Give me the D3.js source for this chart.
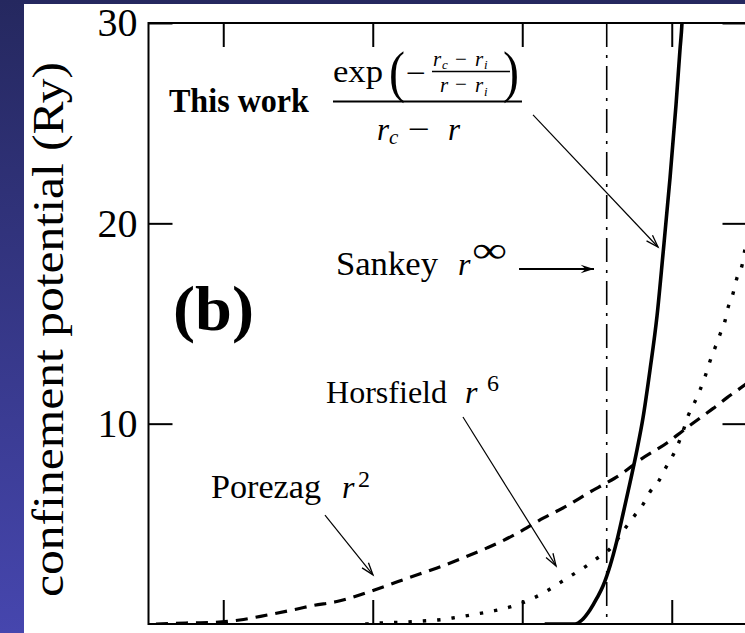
<!DOCTYPE html>
<html>
<head>
<meta charset="utf-8">
<script src="https://cdn.jsdelivr.net/npm/d3@7/dist/d3.min.js"></script>
<style>
  html, body { margin: 0; padding: 0; background: #ffffff; }
  svg { display: block; }
  text, tspan { font-family: "Liberation Serif", "Times New Roman", serif; fill: #000; }
</style>
</head>
<body>
<svg id="chart" width="745" height="633"></svg>
<script>
// ---- data (r in bohr, potential in Ry) ----
const xTicks = [2, 4, 6, 8];
const yTicks = [10, 20, 30];
const cutoffRadius = 7.13;   // Sankey hard wall

// This work: exp(-(rc-ri)/(r-ri)) / (rc-r)
const thisWorkR = [6.3, 6.55, 6.706, 6.799, 6.906, 7.0, 7.08, 7.174, 7.268, 7.348, 7.441, 7.535, 7.615, 7.709, 7.803, 7.883, 7.977, 8.057, 8.11, 8.137, 8.16];
const thisWorkV = [0, 0, 0, 0.2, 0.7, 1.3, 1.9, 2.9, 4.19, 5.49, 7.04, 8.69, 10.28, 12.68, 15.38, 18.47, 22.27, 25.91, 28.66, 30.01, 32.3];

// Porezag r^2
const porezagR = [1.1, 1.5, 1.86, 2.22, 2.59, 2.99, 3.2, 3.52, 3.7, 4.1, 4.5, 4.86, 5.21, 5.53, 5.88, 6.06, 6.28, 6.6, 6.91, 7.13, 7.31, 7.58, 7.94, 8.15, 8.42, 8.55, 8.74, 8.89, 9.0];
const porezagV = [0, 0.05, 0.08, 0.2, 0.45, 0.75, 0.92, 1.12, 1.3, 1.8, 2.33, 2.8, 3.3, 3.8, 4.42, 4.8, 5.28, 5.9, 6.6, 7.05, 7.45, 8.2, 9.05, 9.65, 10.4, 10.75, 11.3, 11.7, 12.0];

// Horsfield r^6
const horsfieldR = [3.9, 4.1, 4.46, 4.67, 4.87, 5.07, 5.39, 5.61, 5.84, 6.0, 6.33, 6.5, 6.67, 6.84, 6.97, 7.2, 7.37, 7.49, 7.62, 7.71, 7.82, 7.92, 8.02, 8.14, 8.22, 8.31, 8.38, 8.45, 8.51, 8.58, 8.65, 8.71, 8.75, 8.82, 8.87, 8.94, 8.98, 9.0];
const horsfieldV = [0, 0.05, 0.1, 0.15, 0.2, 0.3, 0.5, 0.65, 0.85, 1.05, 1.65, 2.05, 2.45, 2.85, 3.2, 3.85, 4.75, 5.35, 6.0, 6.6, 7.1, 7.8, 8.45, 9.5, 10.4, 11.1, 11.7, 12.4, 13.1, 13.8, 14.5, 15.1, 15.75, 16.5, 17.25, 17.9, 18.7, 19.0];

const FONT = "Liberation Serif, Times New Roman, serif";
const svg = d3.select("#chart");
const W = 745, H = 633;

// ---- backdrop: blue slide frame with white panel ----
const defs = svg.append("defs");
const grad = defs.append("linearGradient").attr("id", "slideBlue")
  .attr("x1", 0).attr("y1", 0).attr("x2", 0).attr("y2", 1);
grad.append("stop").attr("offset", "0%").attr("stop-color", "#25285f");
grad.append("stop").attr("offset", "100%").attr("stop-color", "#4646ae");
svg.append("rect").attr("width", W).attr("height", H).attr("fill", "url(#slideBlue)");
svg.append("rect").attr("x", 24).attr("y", 4).attr("width", W - 24).attr("height", H - 4).attr("fill", "#ffffff");

// ---- scales ----
const x = d3.scaleLinear().domain([1, 9]).range([148.5, 746.5]);
const y = d3.scaleLinear().domain([0, 30]).range([624, 23]);
const [x0, x1] = x.range();
const [y0, y1] = y.range();

defs.append("clipPath").attr("id", "plotClip")
  .append("rect").attr("x", x0).attr("y", y1).attr("width", x1 - x0).attr("height", y0 - y1);

// ---- axes (ticks inward on all four sides) ----
const tickLen = 24;
const axisStyle = g => {
  g.select(".domain").remove();
  g.selectAll(".tick line").attr("stroke", "#000").attr("stroke-width", 2);
};
svg.append("g").attr("transform", `translate(0,${y0})`)
  .call(d3.axisBottom(x).tickValues(xTicks).tickSizeInner(-tickLen).tickSizeOuter(0).tickFormat(""))
  .call(axisStyle);
svg.append("g").attr("transform", `translate(0,${y1})`)
  .call(d3.axisTop(x).tickValues(xTicks).tickSizeInner(-tickLen).tickSizeOuter(0).tickFormat(""))
  .call(axisStyle);
const yLeft = svg.append("g").attr("transform", `translate(${x0},0)`)
  .call(d3.axisLeft(y).tickValues(yTicks).tickSizeInner(-tickLen).tickSizeOuter(0).tickPadding(11))
  .call(axisStyle);
yLeft.attr("font-family", FONT);
yLeft.selectAll(".tick text")
  .attr("font-family", FONT)
  .attr("font-size", 40).attr("fill", "#000");
svg.append("g").attr("transform", `translate(${x1},0)`)
  .call(d3.axisRight(y).tickValues(yTicks).tickSizeInner(-tickLen).tickSizeOuter(0).tickFormat(""))
  .call(axisStyle);

svg.append("rect").attr("x", x0).attr("y", y1).attr("width", x1 - x0).attr("height", y0 - y1)
  .attr("fill", "none").attr("stroke", "#000").attr("stroke-width", 2);

// plain text helper
function label(parent, tx, ty, str, size, opts = {}) {
  const t = parent.append("text").attr("x", tx).attr("y", ty)
    .attr("font-family", FONT).attr("font-size", size)
    .attr("font-style", opts.italic ? "italic" : "normal")
    .attr("font-weight", opts.bold ? "bold" : "normal")
    .text(str);
  if (opts.len) t.attr("textLength", opts.len).attr("lengthAdjust", "spacingAndGlyphs");
  return t;
}

// y-axis title
svg.append("text")
  .attr("transform", `translate(63,${(62 + 597) / 2}) rotate(-90)`)
  .attr("text-anchor", "middle")
  .attr("font-family", FONT)
  .attr("font-size", 44)
  .attr("textLength", 535).attr("lengthAdjust", "spacingAndGlyphs")
  .text("confinement potential (Ry)");

// ---- curves ----
const plot = svg.append("g").attr("clip-path", "url(#plotClip)");
const line = d3.line().x(d => x(d[0])).y(d => y(d[1])).curve(d3.curveMonotoneX);
const zip = (a, b) => a.map((v, i) => [v, b[i]]);

// Sankey hard wall
plot.append("line")
  .attr("x1", x(cutoffRadius)).attr("x2", x(cutoffRadius))
  .attr("y1", y(30)).attr("y2", y(0))
  .attr("stroke", "#000").attr("stroke-width", 1.6)
  .attr("stroke-dasharray", "24 8 3 8");

plot.append("path").datum(zip(porezagR, porezagV)).attr("d", line)
  .attr("fill", "none").attr("stroke", "#000").attr("stroke-width", 3.2)
  .attr("stroke-dasharray", "12 8");

plot.append("path").datum(zip(horsfieldR, horsfieldV)).attr("d", line)
  .attr("fill", "none").attr("stroke", "#000").attr("stroke-width", 3.4)
  .attr("stroke-dasharray", "3.4 11");

plot.append("path").datum(zip(thisWorkR, thisWorkV)).attr("d", line)
  .attr("fill", "none").attr("stroke", "#000").attr("stroke-width", 3.6)
  .attr("stroke-linejoin", "round");

// ---- annotations ----
const ann = svg.append("g");

function arrow(from, to, width, filled) {
  const ax = x(from[0]), ay = y(from[1]), bx = x(to[0]), by = y(to[1]);
  const ang = Math.atan2(by - ay, bx - ax);
  const L = filled ? 14 : 13, spread = filled ? 0.3 : 0.32;
  ann.append("line").attr("x1", ax).attr("y1", ay).attr("x2", bx).attr("y2", by)
    .attr("stroke", "#000").attr("stroke-width", width);
  const p1 = [bx - L * Math.cos(ang - spread), by - L * Math.sin(ang - spread)];
  const p2 = [bx - L * Math.cos(ang + spread), by - L * Math.sin(ang + spread)];
  if (filled) {
    const pm = [bx - 0.6 * L * Math.cos(ang), by - 0.6 * L * Math.sin(ang)];
    ann.append("path").attr("d", `M${bx},${by}L${p1}L${pm}L${p2}Z`).attr("fill", "#000");
  } else {
    ann.append("path").attr("d", `M${p1}L${bx},${by}L${p2}`)
      .attr("fill", "none").attr("stroke", "#000").attr("stroke-width", 1.3);
  }
}

arrow([6.144, 25.41], [7.816, 18.82], 1.2, false);  // This work
arrow([5.957, 17.72], [6.96, 17.72], 2.2, true);    // Sankey
arrow([5.207, 10.33], [6.452, 2.90], 1.2, false);   // Horsfield
arrow([3.361, 5.44], [4.003, 2.45], 1.2, false);    // Porezag

// "This work" with its formula
label(ann, x(1.274), y(25.56), "This work", 33, { bold: true, len: 140 });

const fx = x(3.468), fy = y(26.08);
const f = ann.append("g").attr("transform", `translate(${fx},${fy})`);
f.append("line").attr("x1", 0).attr("x2", 189).attr("y1", 0).attr("y2", 0)
  .attr("stroke", "#000").attr("stroke-width", 2);
label(f, 0, -20, "exp", 31, { len: 50 });
label(f, 56, -11, "(", 56, { len: 16 });
label(f, 73, -19, "\u2212", 30, { len: 20 });
// inner fraction (rc - ri)/(r - ri)
label(f, 100, -36, "r", 21, { italic: true });
label(f, 109, -33, "c", 13, { italic: true });
label(f, 122, -36, "\u2212", 21);
label(f, 142, -36, "r", 21, { italic: true });
label(f, 151, -33, "i", 13, { italic: true });
f.append("line").attr("x1", 99).attr("x2", 177).attr("y1", -30).attr("y2", -30)
  .attr("stroke", "#000").attr("stroke-width", 1.5);
label(f, 107, -10, "r", 21, { italic: true });
label(f, 122, -11, "\u2212", 21);
label(f, 142, -10, "r", 21, { italic: true });
label(f, 151, -6, "i", 13, { italic: true });
label(f, 170, -11, ")", 56, { len: 16 });
// outer denominator rc - r
label(f, 44, 38, "r", 31, { italic: true });
label(f, 56, 42, "c", 21, { italic: true });
label(f, 75, 37, "\u2212", 30, { len: 22 });
label(f, 115, 38, "r", 31, { italic: true });

// Sankey r^inf
const skx = x(3.508), sky = y(17.42);
label(ann, skx, sky, "Sankey", 34, { len: 102 });
label(ann, skx + 122, sky, "r", 32, { italic: true });
label(ann, skx + 136, sky - 13, "\u221E", 36, { len: 35 });

// (b)
label(ann, x(1.328), y(14.68), "(b)", 63, { bold: true, len: 81 });

// Horsfield r^6
const hfx = x(3.375), hfy = y(11.03);
label(ann, hfx, hfy, "Horsfield", 32, { len: 121 });
label(ann, hfx + 139, hfy, "r", 32, { italic: true });
label(ann, hfx + 161, hfy - 12, "6", 24);

// Porezag r^2
const pzx = x(1.836), pzy = y(6.29);
label(ann, pzx, pzy, "Porezag", 34, { len: 110 });
label(ann, pzx + 131, pzy, "r", 32, { italic: true });
label(ann, pzx + 147, pzy - 11, "2", 24);
</script>
</body>
</html>
